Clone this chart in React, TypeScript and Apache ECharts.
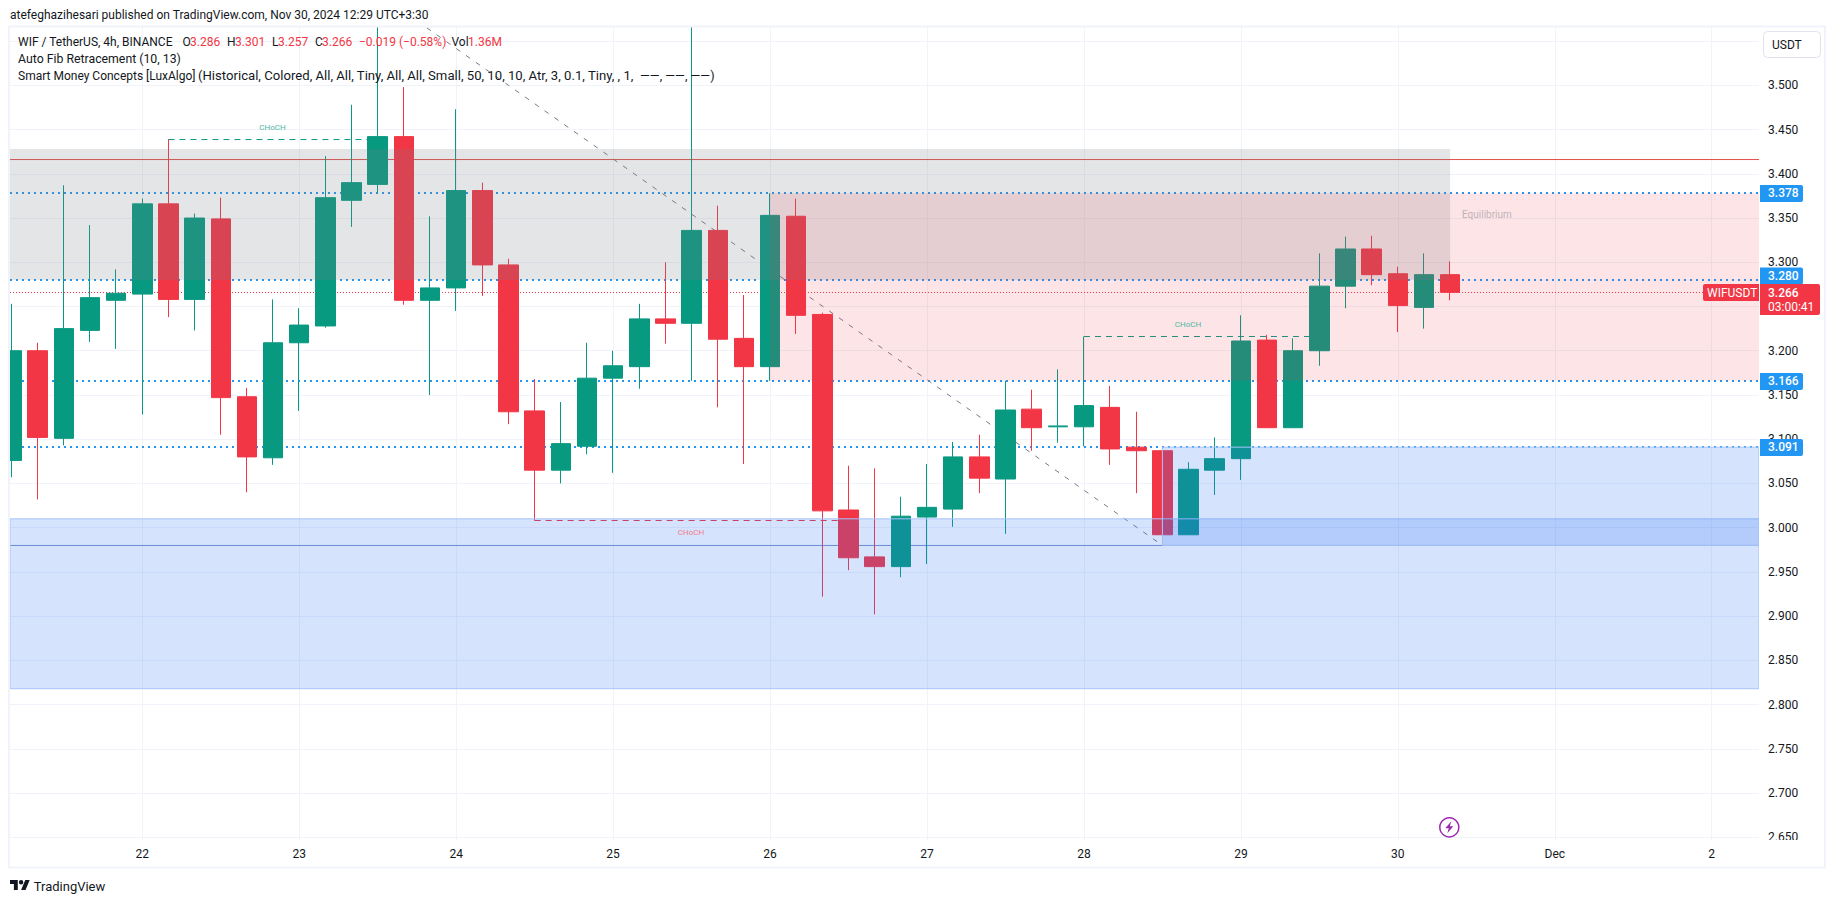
import React, { useEffect, useRef } from "react";
import * as echarts from "echarts";

const opens = [3.076,3.2,3.101,3.223,3.257,3.264,3.366,3.258,3.349,3.148,3.079,3.209,3.228,3.37,3.388,3.442,3.257,3.271,3.381,3.297,3.132,3.065,3.092,3.169,3.182,3.236,3.231,3.336,3.214,3.182,3.352,3.241,3.02,2.967,2.956,3.012,3.021,3.08,3.055,3.134,3.114,3.114,3.136,3.091,3.087,2.992,3.065,3.078,3.212,3.113,3.2,3.273,3.315,3.287,3.249,3.286];
const closes = [3.2,3.102,3.225,3.26,3.265,3.366,3.258,3.35,3.147,3.08,3.209,3.229,3.373,3.39,3.442,3.257,3.271,3.381,3.297,3.131,3.065,3.095,3.169,3.183,3.236,3.231,3.336,3.213,3.182,3.353,3.24,3.019,2.966,2.956,3.013,3.023,3.08,3.056,3.133,3.113,3.115,3.138,3.089,3.087,2.992,3.066,3.078,3.211,3.113,3.2,3.273,3.315,3.286,3.251,3.286,3.266];
const lows = [3.057,3.032,3.093,3.21,3.202,3.128,3.238,3.223,3.105,3.04,3.071,3.132,3.226,3.34,3.378,3.252,3.15,3.245,3.262,3.117,3.008,3.05,3.083,3.062,3.157,3.208,3.166,3.136,3.072,3.166,3.219,2.922,2.952,2.902,2.944,2.959,3.001,3.039,2.993,3.087,3.096,3.092,3.071,3.039,2.98,2.992,3.037,3.054,3.113,3.113,3.183,3.248,3.274,3.221,3.225,3.257];
const highs = [3.253,3.209,3.387,3.342,3.292,3.372,3.439,3.355,3.373,3.158,3.258,3.248,3.42,3.478,3.604,3.498,3.352,3.473,3.39,3.304,3.168,3.142,3.209,3.2,3.253,3.3,3.6,3.364,3.263,3.378,3.372,3.243,3.07,3.067,3.035,3.072,3.097,3.105,3.166,3.156,3.179,3.216,3.16,3.131,3.092,3.074,3.102,3.24,3.218,3.214,3.31,3.329,3.33,3.295,3.31,3.301];

const dayTicks = [5,11,17,23,29,35,41,47,53,59,65];
const dayLabels = ["22","23","24","25","26","27","28","29","30","Dec","2"];
const priceLabels = [3.5,3.45,3.4,3.35,3.3,3.25,3.2,3.15,3.1,3.05,3.0,2.95,2.9,2.85,2.8,2.75,2.7,2.65];
const priceGrid = [3.55, ...priceLabels];

const dottedLevels = [3.3783,3.2799,3.1658,3.0912];
const tagShifts = [0,-4.5,0,0];
const lastPrice = 3.2658;
const resistance = 3.4161;
const support = 2.9799;
const fibFrom = [14,3.604];
const fibTo = [44,2.98];
const chochGreenA = [[6,3.4387],[14,3.4387]];
const chochRed = [[20,3.0081],[32,3.0081]];
const chochGreenB = [[41,3.2161],[50,3.2161]];

const xMin = -0.0573;
const xMax = 66.807;
const yMax = 3.5659;
const yMin = 2.647;

const zoneGray = [xMin,55,3.428,3.28];
const zoneRed = [29,xMax,3.378,3.166];
const zoneBlueWide = [xMin,xMax,3.01,2.818];
const zoneBlueShort = [44,xMax,3.091,2.98];

const GREEN = "#089981";
const RED = "#f23645";
const INK = "#131722";
const BLUE_FILL = "rgba(45,115,245,0.2)";
const FONT = "Roboto";

function hLine(y: number, color: string, width: number, type: any, z = 1) {
  return {
    type: "line", data: [[xMin,y],[xMax,y]], showSymbol: false, silent: true, z,
    lineStyle: { color, width, type }, clip: true,
  };
}
function segLine(data: number[][], color: string, width: number, type: any) {
  return {
    type: "line", data, showSymbol: false, silent: true, z: 1,
    lineStyle: { color, width, type }, clip: true,
  };
}
function zone(box: number[], fill: string, stroke?: string) {
  return {
    type: "custom", z: 3, silent: true, clip: true,
    data: [box],
    encode: { x: [0,1], y: [2,3] },
    renderItem: (_p: any, api: any) => {
      const a = api.coord([api.value(0), api.value(2)]);
      const b = api.coord([api.value(1), api.value(3)]);
      return {
        type: "rect",
        shape: { x: a[0], y: a[1], width: b[0]-a[0], height: b[1]-a[1] },
        style: { fill, stroke: stroke || "none", lineWidth: stroke ? 1 : 0 },
      };
    },
  };
}
function priceTag(value: number, shift: number) {
  return {
    type: "custom", z: 6, silent: true, clip: false,
    data: [[xMax,value]],
    encode: { x: 0, y: 1 },
    renderItem: (_p: any, api: any) => {
      const c = api.coord([api.value(0), api.value(1)]);
      const y = c[1] + shift;
      return {
        type: "group",
        children: [
          { type: "rect", shape: { x: 1760, y: y-8, width: 43, height: 17, r: [0,2,2,0] }, style: { fill: "#2196f3" } },
          { type: "text", style: { text: value.toFixed(3), x: 1768, y: y+0.5, fill: "#ffffff", fontFamily: FONT, fontSize: 12, fontWeight: 500, align: "left", verticalAlign: "middle" } },
        ],
      };
    },
  };
}
function lastTag(value: number) {
  return {
    type: "custom", z: 7, silent: true, clip: false,
    data: [[xMax,value]],
    encode: { x: 0, y: 1 },
    renderItem: (_p: any, api: any) => {
      const y = api.coord([api.value(0), api.value(1)])[1];
      return {
        type: "group",
        children: [
          { type: "rect", shape: { x: 1703, y: y-8.5, width: 56, height: 17, r: [2,0,0,2] }, style: { fill: RED } },
          { type: "text", style: { text: "WIFUSDT", x: 1707, y, fill: "#ffffff", fontFamily: FONT, fontSize: 12, align: "left", verticalAlign: "middle" } },
          { type: "rect", shape: { x: 1760, y: y-8.5, width: 60, height: 31, r: [0,2,2,0] }, style: { fill: RED } },
          { type: "text", style: { text: value.toFixed(3), x: 1768, y, fill: "#ffffff", fontFamily: FONT, fontSize: 12, fontWeight: 500, align: "left", verticalAlign: "middle" } },
          { type: "text", style: { text: "03:00:41", x: 1768, y: y+14.5, fill: "#ffffff", fontFamily: FONT, fontSize: 12, align: "left", verticalAlign: "middle" } },
        ],
      };
    },
  };
}
function txt(text: string, x: number, y: number, fill: string, fontSize = 12, extra: any = {}, scaleX = 1) {
  return {
    type: "text", z: 60, silent: true, x, y, scaleX,
    style: { text, x: 0, y: 0, fill, fontFamily: FONT, fontSize, align: "left", verticalAlign: "middle", ...extra },
  };
}
echarts.graphic.registerShape("tvlogo", echarts.graphic.extendPath("M14 22H7V11H0V4h14v18zM28 22h-8l7.5-18h8L28 22zM24 8a4 4 0 1 1-8 0a4 4 0 1 1 8 0z", {}) as any);

export default function App() {
  const ref = useRef<HTMLDivElement>(null);
  useEffect(() => {
    const chart = echarts.init(ref.current!, undefined, { renderer: "svg" });
    const option: any = {
      animation: false,
      backgroundColor: "#ffffff",
      grid: { left: 10, top: 27, width: 1749, height: 813, containLabel: false },
      xAxis: {
        type: "value", min: xMin, max: xMax,
        axisLine: { show: false },
        axisTick: { show: false, customValues: dayTicks },
        axisLabel: {
          customValues: dayTicks, color: INK, fontFamily: FONT, fontSize: 12, margin: 8,
          formatter: (v: number) => dayLabels[dayTicks.indexOf(Math.round(v))] ?? "",
        },
        splitLine: { show: true, lineStyle: { color: "#f0f3fa", width: 1 } },
      },
      yAxis: {
        type: "value", position: "right", min: yMin, max: yMax, scale: true,
        axisLine: { show: false },
        axisTick: { show: false, customValues: priceGrid },
        axisLabel: {
          customValues: priceLabels, color: INK, fontFamily: FONT, fontSize: 12, margin: 9,
          formatter: (v: number) => v.toFixed(3),
        },
        splitLine: { show: true, lineStyle: { color: "#f0f3fa", width: 1 } },
      },
      series: [
        ...dottedLevels.map((p) => hLine(p, "#2196f3", 2, [2,4])),
        hLine(lastPrice, RED, 1, [1,2]),
        hLine(resistance, "#e4504a", 1, "solid"),
        hLine(support, "#7d93cc", 1, "solid"),
        segLine([fibFrom, fibTo], "#787b86", 1, [5,7]),
        segLine(chochGreenA, GREEN, 1, [6,5]),
        segLine(chochRed, RED, 1, [6,5]),
        segLine(chochGreenB, GREEN, 1, [6,5]),
        {
          type: "candlestick", z: 2, barWidth: 20, clip: true, silent: true,
          data: opens.map((o, i) => [i, o, closes[i], lows[i], highs[i]]),
          itemStyle: { color: GREEN, color0: RED, borderColor: GREEN, borderColor0: RED, borderColorDoji: GREEN, borderWidth: 1 },
        },
        zone(zoneGray, "rgba(120,123,134,0.2)"),
        zone(zoneRed, "rgba(242,54,69,0.13)"),
        zone(zoneBlueWide, BLUE_FILL, "#a8c5fb"),
        zone(zoneBlueShort, BLUE_FILL, "#a8c5fb"),
        ...dottedLevels.map((p, i) => priceTag(p, tagShifts[i])),
        lastTag(lastPrice),
      ],
      graphic: [
        { type: "rect", z: 40, silent: true, shape: { x: 0, y: 0, width: 1835, height: 26 }, style: { fill: "#ffffff" } },
        { type: "rect", z: 40, silent: true, shape: { x: 0, y: 0, width: 9, height: 903 }, style: { fill: "#ffffff" } },
        { type: "rect", z: 50, silent: true, shape: { x: 1760, y: 840, width: 64, height: 26 }, style: { fill: "#ffffff" } },
        { type: "rect", z: 51, silent: true, shape: { x: 9, y: 26.5, width: 1816, height: 841 }, style: { fill: "none", stroke: "#f0f3fa", lineWidth: 2 } },
        txt("atefeghazihesari published on TradingView.com, Nov 30, 2024 12:29 UTC+3:30", 10, 15, INK),
        txt("WIF / TetherUS, 4h, BINANCE", 18, 42, INK),
        txt("O", 182.5, 42, INK), txt("3.286", 190, 42, RED),
        txt("H", 227, 42, INK), txt("3.301", 235, 42, RED),
        txt("L", 272, 42, INK), txt("3.257", 278, 42, RED),
        txt("C", 315, 42, INK), txt("3.266", 322, 42, RED),
        txt("\u22120.019 (\u22120.58%)", 359, 42, RED),
        txt("Vol", 451.5, 42, INK), txt("1.36M", 468, 42, RED),
        txt("Auto Fib Retracement (10, 13)", 18, 59, INK, 12, {}, 1.025),
        txt("Smart Money Concepts [LuxAlgo]", 18, 76, INK),
        txt("(Historical, Colored, All, All, Tiny, All, All, Small, 50, 10, 10, Atr, 3, 0.1, Tiny, , 1,", 198, 76, INK, 12, {}, 1.095),
        txt("\u2014\u2014, \u2014\u2014, \u2014\u2014)", 640, 76, INK, 12, {}, 1.05),
        txt("CHoCH", 272.5, 127.5, "#4db8a5", 8, { align: "center" }),
        txt("CHoCH", 691, 532.5, "#f47b8b", 8, { align: "center" }),
        txt("CHoCH", 1188, 324, "#4db8a5", 8, { align: "center" }),
        txt("Equilibrium", 1462, 214.5, "rgba(120,123,134,0.5)", 10),
        { type: "rect", z: 55, silent: true, shape: { x: 1763.5, y: 31.5, width: 57, height: 26, r: 4 }, style: { fill: "#ffffff", stroke: "#e0e3eb", lineWidth: 1 } },
        txt("USDT", 1772, 44.5, INK),
        { type: "circle", z: 60, silent: true, shape: { cx: 1449.3, cy: 827.3, r: 9.5 }, style: { fill: "none", stroke: "#9c27b0", lineWidth: 1.5 } },
        { type: "polygon", z: 60, silent: true, shape: { points: [[1451.3,821.3],[1445.3,828.3],[1448.8,828.3],[1447.3,833.3],[1453.3,826.3],[1449.8,826.3]] }, style: { fill: "#9c27b0" } },
        { type: "tvlogo", z: 60, silent: true, x: 10, y: 877.8, scaleX: 0.555, scaleY: 0.555, style: { fill: INK } },
        txt("TradingView", 33.7, 886, INK, 13),
      ],
    };
    chart.setOption(option);
    return () => chart.dispose();
  }, []);
  return <div ref={ref} style={{ position: "fixed", left: 0, top: 0, width: 1835, height: 903, background: "#fff" }} />;
}
